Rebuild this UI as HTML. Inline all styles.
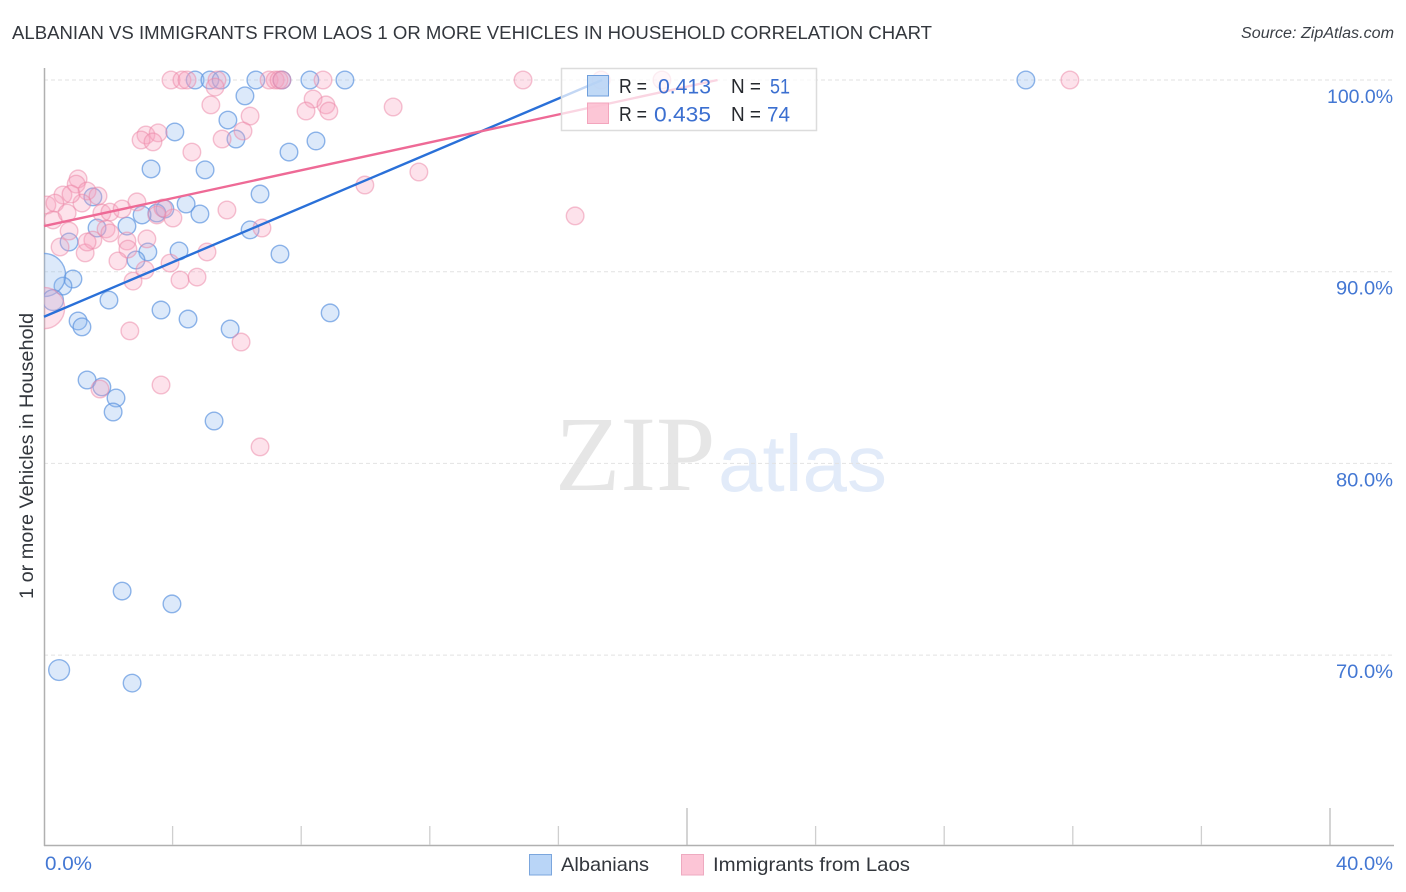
<!DOCTYPE html>
<html lang="en">
<head>
<meta charset="utf-8">
<title>Albanian vs Immigrants from Laos chart</title>
<style>
html,body{margin:0;padding:0;background:#fff;width:1406px;height:892px;overflow:hidden}
svg{display:block;font-family:"Liberation Sans",sans-serif}
</style>
</head>
<body>
<svg id="chart" width="1406" height="892" viewBox="0 0 1406 892">
  <defs><clipPath id="plot-clip"><rect x="44" y="60" width="1350" height="785"/></clipPath></defs>
  <text x="12" y="39" font-size="18.5" fill="#33373d" textLength="920" lengthAdjust="spacingAndGlyphs">ALBANIAN VS IMMIGRANTS FROM LAOS 1 OR MORE VEHICLES IN HOUSEHOLD CORRELATION CHART</text>
  <text x="1394" y="38" font-size="15.5" font-style="italic" fill="#3a3f46" text-anchor="end" textLength="153" lengthAdjust="spacingAndGlyphs">Source: ZipAtlas.com</text>
  <text x="555" y="490" font-family="'Liberation Serif',serif" font-size="107" fill="#e6e6e6">ZIP</text>
  <text x="718" y="491" font-size="80" fill="#e2ebf9">atlas</text>
  <g id="grid"></g>
  <g id="axes"></g>
  <g id="pts" clip-path="url(#plot-clip)"></g>
  <g id="trends"></g>
  <text transform="translate(33,456) rotate(-90)" font-size="19" fill="#33373d" text-anchor="middle" textLength="286" lengthAdjust="spacingAndGlyphs">1 or more Vehicles in Household</text>

  <g>
    <rect x="561.5" y="68.5" width="255" height="62" fill="#fff" fill-opacity="0.72" stroke="#dcdcdc" stroke-width="1.5"/>
    <rect x="587.5" y="75.5" width="21" height="20.5" fill="#b5d2f5" fill-opacity="0.85" stroke="#6f9fdc"/>
    <rect x="587.5" y="103" width="21" height="20.5" fill="#fcc0d2" fill-opacity="0.9" stroke="#f3a5bd"/>
    <g font-size="20" fill="#26292e">
      <text x="619" y="93" textLength="28" lengthAdjust="spacingAndGlyphs">R =</text>
      <text x="619" y="121" textLength="28" lengthAdjust="spacingAndGlyphs">R =</text>
      <text x="731" y="93" textLength="30" lengthAdjust="spacingAndGlyphs">N =</text>
      <text x="731" y="121" textLength="30" lengthAdjust="spacingAndGlyphs">N =</text>
    </g>
    <g font-size="21" fill="#3b6fd0">
      <text x="658" y="93.5" textLength="53" lengthAdjust="spacingAndGlyphs">0.413</text>
      <text x="654" y="121.5" textLength="57" lengthAdjust="spacingAndGlyphs">0.435</text>
      <text x="770" y="93.5" textLength="20" lengthAdjust="spacingAndGlyphs">51</text>
      <text x="767" y="121.5" textLength="23" lengthAdjust="spacingAndGlyphs">74</text>
    </g>
  </g>

  <g>
    <rect x="529.5" y="854.5" width="22" height="20.5" fill="#b9d5f7" stroke="#7ba6dd"/>
    <text x="561" y="871" font-size="19.5" fill="#33373d" textLength="88" lengthAdjust="spacingAndGlyphs">Albanians</text>
    <rect x="681.5" y="854.5" width="22" height="20.5" fill="#fcc5d6" stroke="#eeaac0"/>
    <text x="713" y="871" font-size="19.5" fill="#33373d" textLength="197" lengthAdjust="spacingAndGlyphs">Immigrants from Laos</text>
  </g>
</svg>
<script>
const yTickValues = [100, 90, 80, 70];
const yTickLabels = ["100.0%", "90.0%", "80.0%", "70.0%"];
const xTickValues = [0, 4, 8, 12, 16, 20, 24, 28, 32, 36, 40];
const xMajorTicks = [0, 20, 40];
const xEndValues = [0, 40];
const xEndLabels = ["0.0%", "40.0%"];

const albaniansX = [4.70,5.16,5.51,6.59,7.40,8.27,9.36,30.54,6.25,5.72,5.97,4.07,7.62,8.46,3.33,5.01,6.72,1.52,4.42,4.85,3.76,3.51,3.05,2.58,1.65,6.41,0.78,4.20,3.23,2.86,7.34,0.90,0.59,0,0.28,2.02,3.64,4.48,5.79,8.90,1.06,1.18,1.34,1.80,2.24,2.15,5.29,2.43,3.98,2.74,0.47];
const albaniansY = [100,100,100,100,100,100,100,100,99.17,97.91,96.92,97.29,96.24,96.82,95.36,95.31,94.05,93.90,93.53,93.01,93.27,93.06,92.96,92.38,92.28,92.18,91.55,91.08,91.03,90.61,90.92,89.62,89.25,89.83,88.52,88.52,88.00,87.53,87.01,87.85,87.43,87.12,84.35,83.99,83.41,82.68,82.21,73.34,72.67,68.54,69.22];
const albaniansWeight = [1,1,1,1,1,1,1,1,1,1,1,1,1,1,1,1,1,1,1,1,1,1,1,1,1,1,1,1,1,1,1,1,1,6,1.4,1,1,1,1,1,1,1,1,1,1,1,1,1,1,1,1.4];

const laosX = [3.95,4.29,4.45,5.38,7.00,7.19,7.31,7.40,8.68,14.90,17.33,19.22,31.91,5.32,5.19,6.41,6.19,5.54,8.37,8.77,8.15,8.86,10.86,4.60,3.17,3.55,3.02,3.39,1.06,1.00,0.59,1.34,1.68,1.18,0.84,0.09,0.34,0.28,0.72,0.78,0.50,1.28,1.52,1.34,1.93,2.05,1.80,2.05,2.43,2.89,3.51,4.01,5.69,3.70,2.58,2.61,3.20,2.30,3.14,2.77,3.92,4.23,4.76,5.07,2.67,3.64,1.74,6.13,6.72,6.78,9.98,11.66,16.52,0];
const laosY = [100,100,100,100,100,100,100,100,100,100,100,100,100,99.63,98.70,98.12,97.34,96.92,99.01,98.70,98.38,98.38,98.59,96.24,97.13,97.24,96.87,96.77,94.84,94.57,94.00,94.21,93.95,93.58,94.05,93.48,93.58,92.70,93.06,92.12,91.29,90.98,91.65,91.55,92.23,92.02,93.06,93.11,93.27,93.64,92.96,92.80,93.22,93.32,91.60,91.18,91.71,90.56,90.09,89.51,90.45,89.57,89.72,91.03,86.91,84.09,83.88,86.33,80.86,92.28,94.52,95.20,92.91,88.10];
const laosWeight = [1,1,1,1,1,1,1,1,1,1,1,1,1,1,1,1,1,1,1,1,1,1,1,1,1,1,1,1,1,1,1,1,1,1,1,1,1,1,1,1,1,1,1,1,1,1,1,1,1,1,1,1,1,1,1,1,1,1,1,1,1,1,1,1,1,1,1,1,1,1,1,1,1,5.5];

const albaniansTrendX = [0, 17.36];
const albaniansTrendY = [87.65, 100];
const laosTrendX = [0, 20.95];
const laosTrendY = [92.38, 100];

const SVGNS = "http://www.w3.org/2000/svg";
function xScale(v){ return 44 + v * 32.15; }
function yScale(v){ return 80 + (100 - v) * 19.17; }
function make(tag, attrs, parent){
  const el = document.createElementNS(SVGNS, tag);
  for (const k in attrs) el.setAttribute(k, attrs[k]);
  parent.appendChild(el);
  return el;
}

const grid = document.getElementById("grid");
const axes = document.getElementById("axes");
const pts = document.getElementById("pts");
const trends = document.getElementById("trends");

yTickValues.forEach(function(v, i){
  const line = make("line", {x1:44, x2:1394, y1:yScale(v), y2:yScale(v), stroke:"#e2e2e2", "stroke-width":1, "stroke-dasharray":"4 3"}, grid);
  
  
  const label = make("text", {x:1393, y:yScale(v)+23, "font-size":19.5, fill:"#4377d3", "text-anchor":"end", textLength:i === 0 ? 66 : 57, lengthAdjust:"spacingAndGlyphs"}, axes);
  label.textContent = yTickLabels[i];
  
  
});

const leftAxis = make("line", {x1:44.5, x2:44.5, y1:68, y2:846, stroke:"#b0b0b0", "stroke-width":1.5}, axes);


const bottomAxis = make("line", {x1:44, x2:1394, y1:845.5, y2:845.5, stroke:"#b0b0b0", "stroke-width":1.5}, axes);



xTickValues.forEach(function(v){
  if (v === 0) return;
  const major = xMajorTicks.indexOf(v) >= 0;
  const tick = make("line", {x1:xScale(v), x2:xScale(v), y1:major ? 808 : 826, y2:845, stroke:major ? "#bcbcbc" : "#cfcfcf", "stroke-width":1.3}, axes);
  
  
});

xEndValues.forEach(function(v, i){
  const label = make("text", {x:i === 0 ? xScale(v)+1 : xScale(v)+6, y:870, "font-size":19.5, fill:"#4377d3", textLength:i === 0 ? 47 : 57, lengthAdjust:"spacingAndGlyphs"}, axes);
  label.textContent = xEndLabels[i];
  
  
});

albaniansX.forEach(function(v, i){
  const c = make("circle", {cx:xScale(v), cy:yScale(albaniansY[i]), r:8.8*Math.sqrt(albaniansWeight[i]), fill:"#8db8f0", "fill-opacity":0.31, stroke:"#5f96e0", "stroke-opacity":0.7, "stroke-width":1.4}, pts);
  
  
});
laosX.forEach(function(v, i){
  const c = make("circle", {cx:xScale(v), cy:yScale(laosY[i]), r:8.8*Math.sqrt(laosWeight[i]), fill:"#f9a3bd", "fill-opacity":0.31, stroke:"#ec85a6", "stroke-opacity":0.5, "stroke-width":1.4}, pts);
  
  
});

const trendA = make("line", {x1:xScale(albaniansTrendX[0]), y1:yScale(albaniansTrendY[0]), x2:xScale(albaniansTrendX[1]), y2:yScale(albaniansTrendY[1]), stroke:"#2a70d8", "stroke-width":2.4}, trends);


const trendL = make("line", {x1:xScale(laosTrendX[0]), y1:yScale(laosTrendY[0]), x2:xScale(laosTrendX[1]), y2:yScale(laosTrendY[1]), stroke:"#ee6a96", "stroke-width":2.4}, trends);


</script>
</body>
</html>
